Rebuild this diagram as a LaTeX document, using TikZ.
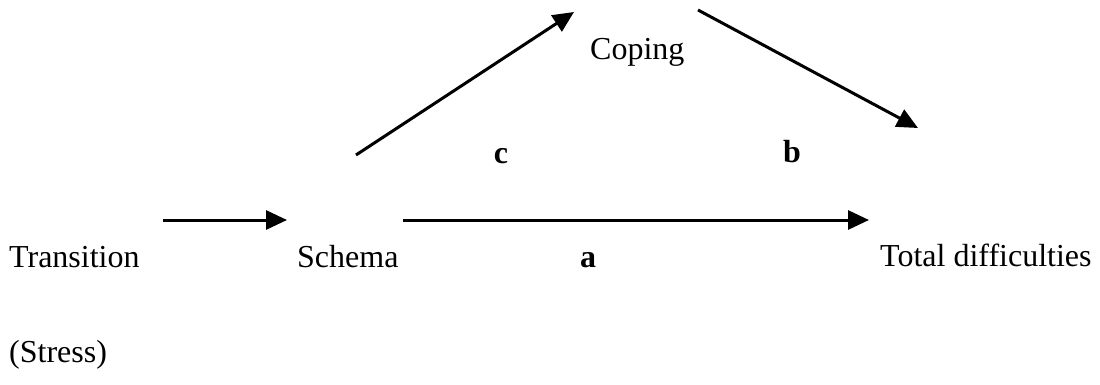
\documentclass[tikz,border=0pt]{standalone}
\usepackage{fontspec}
\setmainfont{Liberation Serif}
\usetikzlibrary{arrows.meta}
\begin{document}
\begin{tikzpicture}[x=1pt,y=-1pt,
  lbl/.style={inner sep=0pt,font=\fontsize{32}{36}\selectfont},
  path/.style={font=\fontsize{32}{36}\selectfont\bfseries,inner sep=0pt},
  arr/.style={line width=3pt,-{Triangle[length=21pt,width=19pt]}}]
\useasboundingbox (0,0) rectangle (1100,385);
% text nodes
\node[lbl,anchor=base west] (tr) at (9,267) {Transition};
\node[lbl,anchor=base west] (st) at (9,362) {(Stress)};
\node[lbl,anchor=base west] (sc) at (297,267) {Schema};
\node[lbl,anchor=base west] (co) at (590,60) {Coping};
\node[lbl,anchor=base west] (td) at (880,266) {Total difficulties};
\node[path,anchor=base] (la) at (588,267) {a};
\node[path,anchor=base] (lc) at (501,163) {c};
\node[path,anchor=base] (lb) at (792,162) {b};
% arrow end points
\coordinate (t1) at (163,220);
\coordinate (t2) at (287,220);
\coordinate (s1) at (403,220);
\coordinate (s2) at (869,220);
\coordinate (c1) at (356,155);
\coordinate (c2) at (574,12);
\coordinate (b1) at (698,10);
\coordinate (b2) at (918,128);
\draw[arr] (t1) -- (t2);
\draw[arr] (s1) -- (s2);
\draw[arr] (c1) -- (c2);
\draw[arr] (b1) -- (b2);
\end{tikzpicture}
\end{document}
